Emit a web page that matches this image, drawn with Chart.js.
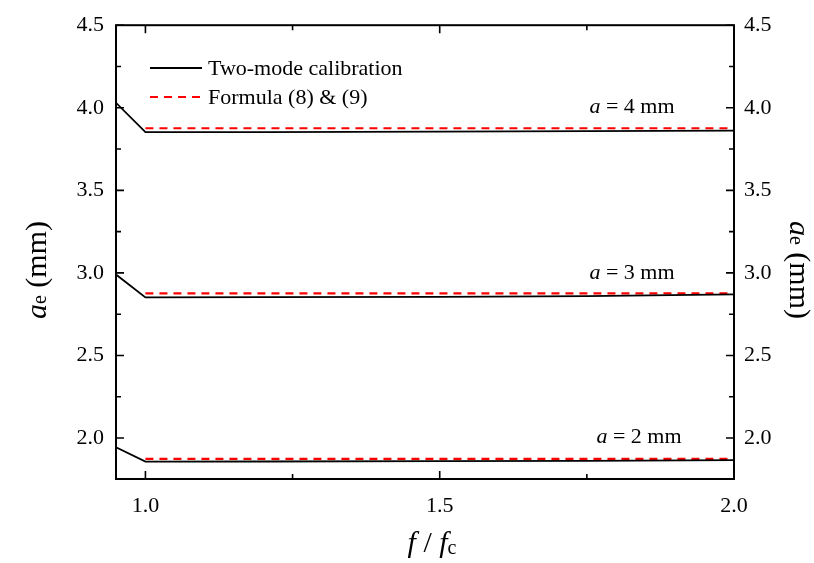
<!DOCTYPE html>
<html>
<head>
<meta charset="utf-8">
<script src="https://cdn.jsdelivr.net/npm/chart.js@4.4.0/dist/chart.umd.min.js"></script>
<style>
  html, body { margin: 0; padding: 0; background: #fff; }
  #wrap { width: 814px; height: 563px; }
</style>
</head>
<body>
<div id="wrap"><canvas id="grafico" width="814" height="563"></canvas></div>
<script>
// values
const fRatio = [0.95, 1.0, 1.2, 1.5, 1.75, 2.0];
const calib4 = [4.03, 3.852, 3.853, 3.855, 3.858, 3.862];
const calib3 = [2.99, 2.852, 2.853, 2.855, 2.860, 2.870];
const calib2 = [1.944, 1.857, 1.858, 1.860, 1.862, 1.866];
const formulaX = [1.0, 2.0];
const formula4 = [3.876, 3.876];
const formula3 = [2.876, 2.876];
const formula2 = [1.874, 1.874];
const xTicks = [1.0, 1.5, 2.0];
const xMinor = [1.25, 1.75];
const yTicks = [2.0, 2.5, 3.0, 3.5, 4.0, 4.5];
const yMinor = [2.25, 2.75, 3.25, 3.75, 4.25];
const labels = ["a = 2 mm", "a = 3 mm", "a = 4 mm"];

const SERIF = "'Liberation Serif', 'Times New Roman', serif";

function pts(xs, ys) {
    return xs.map((x, i) => ({ x: x, y: ys[i] }));
}

function solid(ys) {
    return { data: pts(fRatio, ys), borderColor: '#000', borderWidth: 1.8, pointRadius: 0, fill: false, tension: 0 };
}
function dashed(ys) {
    return { data: pts(formulaX, ys), borderColor: '#ff0000', borderWidth: 2.2, borderDash: [8, 6], pointRadius: 0, fill: false, tension: 0 };
}

const decor = {
    id: 'decor',
    afterDraw(chart) {
        const ctx = chart.ctx;
        const a = chart.chartArea;
        const xs = chart.scales.x, ys = chart.scales.y;
        ctx.save();
        ctx.strokeStyle = '#000';
        ctx.lineWidth = 1.6;
        // inward ticks
        ctx.beginPath();
        function xt(v, len) {
            const p = xs.getPixelForValue(v);
            ctx.moveTo(p, a.bottom); ctx.lineTo(p, a.bottom - len);
            ctx.moveTo(p, a.top); ctx.lineTo(p, a.top + len);
        }
        function yt(v, len) {
            const p = ys.getPixelForValue(v);
            ctx.moveTo(a.left, p); ctx.lineTo(a.left + len, p);
            ctx.moveTo(a.right, p); ctx.lineTo(a.right - len, p);
        }
        xTicks.forEach(v => xt(v, 8));
        xMinor.forEach(v => xt(v, 5));
        yTicks.forEach(v => yt(v, 8));
        yMinor.forEach(v => yt(v, 5));
        ctx.stroke();
        // frame
        ctx.lineWidth = 2;
        ctx.strokeRect(a.left, a.top, a.right - a.left, a.bottom - a.top);

        ctx.fillStyle = '#000';
        ctx.textBaseline = 'middle';
        // legend
        ctx.beginPath();
        ctx.lineWidth = 1.8;
        ctx.moveTo(150, 68); ctx.lineTo(202, 68);
        ctx.stroke();
        ctx.beginPath();
        ctx.strokeStyle = '#ff0000';
        ctx.lineWidth = 2.2;
        ctx.setLineDash([8, 6]);
        ctx.moveTo(150, 97); ctx.lineTo(202, 97);
        ctx.stroke();
        ctx.setLineDash([]);
        ctx.font = '22px ' + SERIF;
        ctx.textAlign = 'left';
        ctx.fillText('Two-mode calibration', 208, 69);
        ctx.fillText('Formula (8) & (9)', 208, 98);

        // curve labels
        const lab = [[639, 437], [632, 273], [632, 107]];
        labels.forEach((t, i) => {
            const rest = t.slice(1);
            ctx.font = '22px ' + SERIF;
            const wr = ctx.measureText(rest).width;
            ctx.font = 'italic 22px ' + SERIF;
            const wa = ctx.measureText('a').width;
            let x0 = lab[i][0] - (wa + wr) / 2;
            ctx.fillText('a', x0, lab[i][1]);
            ctx.font = '22px ' + SERIF;
            ctx.fillText(rest, x0 + wa, lab[i][1]);
        });

        // axis titles
        function aeTitle(cx, cy, rot) {
            ctx.save();
            ctx.translate(cx, cy);
            ctx.rotate(rot);
            ctx.font = 'italic 30px ' + SERIF;
            const wa = ctx.measureText('a').width;
            ctx.font = '20px ' + SERIF;
            const we = ctx.measureText('e').width;
            ctx.font = '30px ' + SERIF;
            const wm = ctx.measureText(' (mm)').width;
            let x0 = -(wa + we + wm) / 2;
            ctx.textAlign = 'left';
            ctx.font = 'italic 30px ' + SERIF;
            ctx.fillText('a', x0, 0);
            ctx.font = '20px ' + SERIF;
            ctx.fillText('e', x0 + wa, 3);
            ctx.font = '30px ' + SERIF;
            ctx.fillText(' (mm)', x0 + wa + we, 0);
            ctx.restore();
        }
        aeTitle(38, 270, -Math.PI / 2);
        aeTitle(798, 270, Math.PI / 2);

        // x title  f / fc
        ctx.font = 'italic 30px ' + SERIF;
        const wf = ctx.measureText('f').width;
        ctx.font = '30px ' + SERIF;
        const ws = ctx.measureText(' / ').width;
        ctx.font = '20px ' + SERIF;
        const wc = ctx.measureText('c').width;
        let x0 = 432 - (wf * 2 + ws + wc) / 2;
        ctx.font = 'italic 30px ' + SERIF;
        ctx.fillText('f', x0, 544);
        ctx.font = '30px ' + SERIF;
        ctx.fillText(' / ', x0 + wf, 544);
        ctx.font = 'italic 30px ' + SERIF;
        ctx.fillText('f', x0 + wf + ws, 544);
        ctx.font = '20px ' + SERIF;
        ctx.fillText('c', x0 + wf * 2 + ws, 549);
        ctx.restore();
    }
};

const tickFont = { family: SERIF, size: 22 };

function setTicks(list) {
    return function (scale) {
        scale.ticks = list.map(v => ({ value: v }));
    };
}

new Chart(document.getElementById('grafico').getContext('2d'), {
    type: 'line',
    data: {
        datasets: [
            solid(calib4), dashed(formula4),
            solid(calib3), dashed(formula3),
            solid(calib2), dashed(formula2)
        ]
    },
    options: {
        responsive: false,
        animation: false,
        devicePixelRatio: 1,
        layout: { padding: { top: 24, left: 0, right: 0, bottom: 0 } },
        plugins: { legend: { display: false }, tooltip: { enabled: false } },
        scales: {
            x: {
                type: 'linear', position: 'bottom', min: 0.95, max: 2.0,
                afterBuildTicks: setTicks(xTicks),
                afterFit(s) { s.height = 84; },
                grid: { display: false, drawTicks: false },
                border: { display: false },
                ticks: { font: tickFont, color: '#000', padding: 14, maxRotation: 0,
                    callback: v => Number(v).toFixed(1) }
            },
            y: {
                type: 'linear', position: 'left', min: 1.752, max: 4.5,
                afterBuildTicks: setTicks(yTicks),
                afterFit(s) { s.width = 116; },
                grid: { display: false, drawTicks: false },
                border: { display: false },
                ticks: { font: tickFont, color: '#000', padding: 12,
                    callback: v => Number(v).toFixed(1) }
            },
            y2: {
                type: 'linear', position: 'right', min: 1.752, max: 4.5,
                afterBuildTicks: setTicks(yTicks),
                afterFit(s) { s.width = 80; },
                grid: { display: false, drawTicks: false },
                border: { display: false },
                ticks: { font: tickFont, color: '#000', padding: 10,
                    callback: v => Number(v).toFixed(1) }
            }
        }
    },
    plugins: [decor]
});
</script>
</body>
</html>
